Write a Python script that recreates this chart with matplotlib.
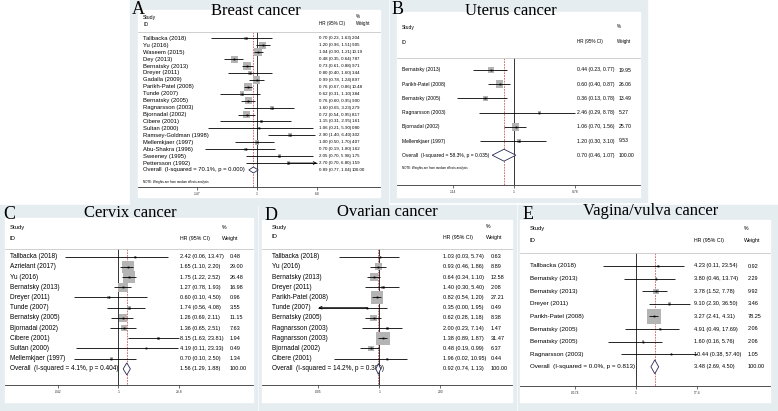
import matplotlib
matplotlib.use("Agg")
import matplotlib.pyplot as plt
from matplotlib.patches import Rectangle, Polygon
from matplotlib.ticker import NullLocator
import numpy as np

W, H = 778, 411
BG = "#e6edf0"
BOX = "#b4b4b4"
SANS = ["Liberation Sans", "DejaVu Sans"]
SERIF = ["Liberation Serif", "DejaVu Serif"]

# ---------------- data ----------------
breast_study = ["Tallbacka (2018)", "Yu (2016)", "Waseem (2015)", "Dey (2013)", "Bernatsky (2013)",
                "Dreyer (2011)", "Gadalla (2009)", "Parikh-Patel (2008)", "Tunde (2007)",
                "Bernatsky (2005)", "Ragnarsson (2003)", "Bjornadal (2002)", "Cibere (2001)",
                "Sultan (2000)", "Ramsey-Goldman (1998)", "Mellemkjaer (1997)", "Abu-Shakra (1996)",
                "Sweeney (1995)", "Pettersson (1992)"]
breast_hr = [0.70, 1.20, 1.04, 0.48, 0.73, 0.80, 0.99, 0.76, 0.62, 0.76, 1.60, 0.72, 1.15, 1.06,
             2.90, 1.00, 0.70, 2.05, 2.70]
breast_lo = [0.23, 0.96, 0.90, 0.35, 0.61, 0.40, 0.78, 0.67, 0.31, 0.60, 0.65, 0.54, 0.31, 0.21,
             1.40, 0.50, 0.19, 0.70, 0.70]
breast_hi = [1.63, 1.51, 1.21, 0.64, 0.88, 1.60, 1.24, 0.86, 1.10, 0.95, 3.23, 0.95, 2.95, 5.90,
             6.40, 1.70, 1.80, 5.98, 6.80]
breast_wt = [2.04, 9.05, 10.19, 7.87, 9.71, 3.44, 8.97, 10.48, 3.84, 9.00, 2.79, 8.17, 1.61, 0.80,
             3.02, 4.07, 1.62, 1.75, 1.59]
breast_overall = [0.89, 0.77, 1.04]
breast_het = "Overall  (I-squared = 70.1%, p = 0.000)"
breast_ticks = [0.147, 1, 6.8]
breast_ticklabels = [".147", "1", "6.8"]

uterus_study = ["Bernatsky (2013)", "Parikh-Patel (2008)", "Bernatsky (2005)", "Ragnarsson (2003)",
                "Bjornadal (2002)", "Mellemkjaer (1997)"]
uterus_hr = [0.44, 0.60, 0.36, 2.46, 1.06, 1.20]
uterus_lo = [0.23, 0.40, 0.13, 0.29, 0.70, 0.30]
uterus_hi = [0.77, 0.87, 0.78, 8.78, 1.56, 3.10]
uterus_wt = [19.95, 26.06, 13.49, 5.27, 25.70, 9.53]
uterus_overall = [0.70, 0.46, 1.07]
uterus_het = "Overall  (I-squared = 58.3%, p = 0.035)"
uterus_ticks = [0.114, 1, 8.78]
uterus_ticklabels = [".114", "1", "8.78"]

cervix_study = ["Tallbacka (2018)", "Azrielant (2017)", "Yu (2016)", "Bernatsky (2013)",
                "Dreyer (2011)", "Tunde (2007)", "Bernatsky (2005)", "Bjornadal (2002)",
                "Cibere (2001)", "Sultan (2000)", "Mellemkjaer (1997)"]
cervix_hr = [2.42, 1.65, 1.75, 1.27, 0.60, 1.74, 1.26, 1.36, 8.15, 4.19, 0.70]
cervix_lo = [0.06, 1.10, 1.22, 0.78, 0.10, 0.56, 0.69, 0.65, 1.63, 0.11, 0.10]
cervix_hi = [13.47, 2.20, 2.52, 1.93, 4.50, 4.08, 2.11, 2.51, 23.81, 23.33, 2.50]
cervix_wt = [0.48, 29.00, 26.48, 16.98, 0.96, 3.55, 11.15, 7.63, 1.94, 0.49, 1.34]
cervix_overall = [1.56, 1.29, 1.88]
cervix_het = "Overall  (I-squared = 4.1%, p = 0.404)"
cervix_ticks = [0.042, 1, 23.8]
cervix_ticklabels = [".042", "1", "23.8"]

ovarian_study = ["Tallbacka (2018)", "Yu (2016)", "Bernatsky (2013)", "Dreyer (2011)",
                 "Parikh-Patel (2008)", "Tunde (2007)", "Bernatsky (2005)", "Ragnarsson (2003)",
                 "Ragnarsson (2003)", "Bjornadal (2002)", "Cibere (2001)"]
ovarian_hr = [1.03, 0.93, 0.64, 1.40, 0.82, 0.35, 0.62, 2.00, 1.38, 0.48, 1.96]
ovarian_lo = [0.03, 0.46, 0.34, 0.30, 0.54, 0.00, 0.28, 0.23, 0.89, 0.19, 0.02]
ovarian_hi = [5.74, 1.86, 1.10, 5.40, 1.20, 1.95, 1.18, 7.14, 1.87, 0.99, 10.95]
ovarian_wt = [0.63, 8.89, 12.58, 2.08, 27.21, 0.49, 8.38, 1.47, 31.47, 6.37, 0.44]
ovarian_overall = [0.92, 0.74, 1.13]
ovarian_het = "Overall  (I-squared = 14.2%, p = 0.309)"
ovarian_ticks = [0.005, 1, 200]
ovarian_ticklabels = [".005", "1", "200"]

vagina_study = ["Tallbacka (2018)", "Bernatsky (2013)", "Bernatsky (2013)", "Dreyer (2011)",
                "Parikh-Patel (2008)", "Bernatsky (2005)", "Bernatsky (2005)", "Ragnarsson (2003)"]
vagina_hr = [4.23, 3.80, 3.78, 9.10, 3.27, 4.91, 1.60, 10.44]
vagina_lo = [0.11, 0.46, 1.52, 2.30, 2.41, 0.49, 0.16, 0.38]
vagina_hi = [23.54, 13.74, 7.78, 36.50, 4.31, 17.69, 5.76, 57.40]
vagina_wt = [0.92, 2.29, 9.92, 3.46, 78.25, 2.06, 2.06, 1.05]
vagina_overall = [3.48, 2.69, 4.50]
vagina_het = "Overall  (I-squared = 0.0%, p = 0.813)"
vagina_ticks = [0.0174, 1, 57.4]
vagina_ticklabels = [".0174", "1", "57.4"]


# ---------------- layout (pixels) ----------------
LAY_A = dict(bg=(130, 0, 388, 205), white=(138, 10, 380, 197), letter=(132, 10), title=(256, 11),
             row0=38.3, step=6.93, axis=187, one=257, k=72, lab=143, study_y=17, id_y=24, sep=32,
             hr_x=319, pct_x=356, wt_x=352, head_y=24, pct_y=16, note=181.7,
             fs_lab=4.2, fs_val=3.2, fs_head=3.7, box=2.47, dia=0.43)
LAY_B = dict(bg=(390, 0, 647, 202), white=(397, 12, 640, 197), letter=(392, 9), title=(511, 11),
             row0=70, step=14.2, axis=185, one=514, k=64.7, lab=402, study_y=27, id_y=42, sep=58,
             hr_x=577, pct_x=617, wt_x=619, head_y=42, pct_y=26, note=168,
             fs_lab=3.6, fs_val=3.7, fs_head=3.6, box=1.48, dia=0.42)
LAY_C = dict(bg=(0, 205, 257, 411), white=(5, 218, 253, 402), letter=(3, 214), title=(130, 213),
             row0=256.7, step=10.2, axis=385, one=118.3, k=44, lab=10, study_y=227, id_y=238, sep=249,
             hr_x=180, pct_x=222, wt_x=230, head_y=238, pct_y=227, note=None,
             fs_lab=4.7, fs_val=4.0, fs_head=4.2, box=2.32, dia=0.59)
LAY_D = dict(bg=(259, 205, 516, 411), white=(262, 220, 512, 402), letter=(265, 215), title=(387, 212),
             row0=256.7, step=10.2, axis=385, one=379.3, k=26.5, lab=272, study_y=227, id_y=237, sep=249,
             hr_x=443, pct_x=486, wt_x=490.7, head_y=237, pct_y=227, note=None,
             fs_lab=4.7, fs_val=4.0, fs_head=4.2, box=2.32, dia=0.52)
LAY_E = dict(bg=(518, 205, 778, 411), white=(520, 220, 770, 402), letter=(523, 214), title=(651, 211),
             row0=266, step=12.6, axis=386, one=636, k=34.7, lab=530, study_y=228, id_y=240, sep=253,
             hr_x=694, pct_x=744, wt_x=747.7, head_y=240, pct_y=228, note=None,
             fs_lab=4.5, fs_val=4.0, fs_head=4.2, box=1.64, dia=0.55)


def forest(fig, L, study, hr, lo, hi, wt, overall, het, ticks, ticklabels,
           title, letter, arrows=None, weight_sep=False):
    arrows = arrows or {}
    x0, y0, x1, y1 = L["bg"]
    fig.patches.append(Rectangle((x0 / W, 1 - y1 / H), (x1 - x0) / W, (y1 - y0) / H,
                                 transform=fig.transFigure, color=BG, zorder=-3))
    wx0, wy0, wx1, wy1 = L["white"]
    fig.patches.append(Rectangle((wx0 / W, 1 - wy1 / H), (wx1 - wx0) / W, (wy1 - wy0) / H,
                                 transform=fig.transFigure, color="white", zorder=-2))

    ax = fig.add_axes([wx0 / W, 1 - L["axis"] / H, (wx1 - wx0) / W, (L["axis"] - wy0) / H])
    ax.patch.set_alpha(0)
    ax.set_xscale("log")
    c, k = L["one"], L["k"]
    ax.set_xlim(10 ** ((wx0 - c) / k), 10 ** ((wx1 - c) / k))
    r0, st = L["row0"], L["step"]
    fr = lambda p: (p - r0) / st
    fx = lambda p: (p - wx0) / (wx1 - wx0)
    ax.set_ylim(fr(L["axis"]), fr(wy0))
    for s in ["top", "left", "right"]:
        ax.spines[s].set_visible(False)
    ax.spines["bottom"].set_linewidth(0.6)
    ax.spines["bottom"].set_color("#333333")
    ax.set_yticks([])
    ax.xaxis.set_minor_locator(NullLocator())
    ax.set_xticks(ticks)
    ax.set_xticklabels(ticklabels, fontsize=2.4, family=SANS)
    ax.tick_params(axis="x", length=2, width=0.5, pad=1.5, colors="#333333")

    tr = ax.get_yaxis_transform()
    n = len(study)
    rows = np.arange(n)
    top = fr(L["sep"])
    bottom = fr(L["axis"])

    # header
    ax.text(fx(L["lab"]), fr(L["study_y"]), "Study", transform=tr, fontsize=L["fs_head"],
            family=SANS, va="center")
    ax.text(fx(L["lab"]), fr(L["id_y"]), "ID", transform=tr, fontsize=L["fs_head"],
            family=SANS, va="center")
    ax.text(fx(L["hr_x"]), fr(L["head_y"]), "HR (95% CI)", transform=tr, fontsize=L["fs_head"] * 0.9,
            family=SANS, va="center")
    ax.text(fx(L["pct_x"]), fr(L["pct_y"]), "%", transform=tr, fontsize=L["fs_head"] * 0.9,
            family=SANS, va="center")
    ax.text(fx(L["pct_x"]), fr(L["head_y"]), "Weight", transform=tr, fontsize=L["fs_head"] * 0.9,
            family=SANS, va="center")
    ax.plot([0, 1], [top, top], transform=tr, color="#c8c8c8", lw=0.6, clip_on=False)

    # reference lines
    ax.plot([1, 1], [top, bottom], color="#333333", lw=0.7, zorder=1)
    ax.plot([overall[0]] * 2, [top, bottom], color="#c23b3b", lw=0.5, ls=(0, (2.5, 1.5)), zorder=1.5)

    # studies
    sizes = (L["box"] * np.sqrt(np.array(wt)) / 1.389) ** 2
    ax.scatter(hr, rows, marker="s", s=sizes, color=BOX, linewidths=0, zorder=2)
    for i in range(n):
        lc = max(lo[i], ticks[0])
        uc = min(hi[i], ticks[-1])
        ax.plot([lc, uc], [i, i], color="black", lw=0.6, zorder=3, solid_capstyle="butt")
        if i in arrows:
            end = ticks[0] if arrows[i] == "left" else ticks[-1]
            ax.annotate("", xy=(end, i), xytext=(hr[i], i),
                        arrowprops=dict(arrowstyle="->", lw=0.6, color="black",
                                        mutation_scale=5, shrinkA=0, shrinkB=0), zorder=3)
        ax.text(fx(L["lab"]), i, study[i], transform=tr, fontsize=L["fs_lab"], family=SANS, va="center")
        ax.text(fx(L["hr_x"]), i, f"{hr[i]:.2f} ({lo[i]:.2f}, {hi[i]:.2f})", transform=tr,
                fontsize=L["fs_val"], family=SANS, va="center")
        ax.text(fx(L["wt_x"]), i, f"{wt[i]:.2f}", transform=tr,
                fontsize=L["fs_val"], family=SANS, va="center")
    ax.plot(hr, rows, "s", ms=1.3, color="black", zorder=4, mew=0)

    # overall
    est, olo, ohi = overall
    h = L["dia"]
    ax.add_patch(Polygon([(olo, n), (est, n - h), (ohi, n), (est, n + h)], closed=True,
                         facecolor="white", edgecolor="#2a2a55", lw=0.6, zorder=4))
    ax.text(fx(L["lab"]), n, het, transform=tr, fontsize=L["fs_lab"], family=SANS, va="center")
    ax.text(fx(L["hr_x"]), n, f"{est:.2f} ({olo:.2f}, {ohi:.2f})", transform=tr,
            fontsize=L["fs_val"], family=SANS, va="center")
    ax.text(fx(L["wt_x"]), n, "100.00", transform=tr, fontsize=L["fs_val"], family=SANS, va="center")
    if L["note"] is not None:
        ax.text(fx(L["lab"]), fr(L["note"]), "NOTE: Weights are from random effects analysis",
                transform=tr, fontsize=2.2, family=SANS, va="center")

    fig.text(L["title"][0] / W, 1 - L["title"][1] / H, title, fontsize=12, family=SERIF,
             ha="center", va="center")
    fig.text(L["letter"][0] / W, 1 - L["letter"][1] / H, letter, fontsize=13, family=SERIF,
             ha="left", va="center")
    return ax


fig = plt.figure(figsize=(W / 100, H / 100), dpi=100)

forest(fig, LAY_A, breast_study, breast_hr, breast_lo, breast_hi, breast_wt, breast_overall,
       breast_het, breast_ticks, breast_ticklabels, "Breast cancer", "A", arrows={18: "right"})
forest(fig, LAY_B, uterus_study, uterus_hr, uterus_lo, uterus_hi, uterus_wt, uterus_overall,
       uterus_het, uterus_ticks, uterus_ticklabels, "Uterus cancer", "B")
forest(fig, LAY_C, cervix_study, cervix_hr, cervix_lo, cervix_hi, cervix_wt, cervix_overall,
       cervix_het, cervix_ticks, cervix_ticklabels, "Cervix cancer", "C")
forest(fig, LAY_D, ovarian_study, ovarian_hr, ovarian_lo, ovarian_hi, ovarian_wt, ovarian_overall,
       ovarian_het, ovarian_ticks, ovarian_ticklabels, "Ovarian cancer", "D", arrows={5: "left"})
forest(fig, LAY_E, vagina_study, vagina_hr, vagina_lo, vagina_hi, vagina_wt, vagina_overall,
       vagina_het, vagina_ticks, vagina_ticklabels, "Vagina/vulva cancer", "E")

fig.savefig("out.png", dpi=100)
